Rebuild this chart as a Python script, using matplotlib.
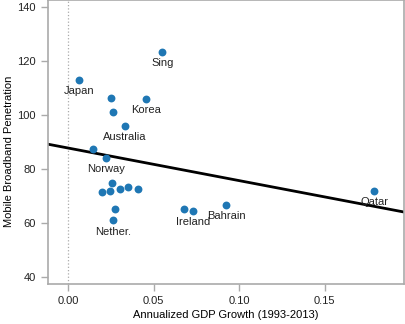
import numpy as np
import matplotlib.pyplot as plt

plt.rcParams['font.family'] = ['Liberation Sans', 'DejaVu Sans']

# annualized GDP growth vs mobile broadband penetration, one point per country
gdp_growth = [0.055, 0.0063, 0.0251, 0.026, 0.0454, 0.0333, 0.0144, 0.0219,
              0.0199, 0.0246, 0.0257, 0.030, 0.0351, 0.0409, 0.0273, 0.026,
              0.0677, 0.0731, 0.0924, 0.179]
penetration = [123.4, 113.1, 106.5, 101.3, 106.0, 96.1, 87.5, 84.1,
               71.7, 71.8, 74.7, 72.6, 73.4, 72.5, 65.1, 61.0,
               65.4, 64.4, 66.9, 71.9]
names = ['Sing', 'Japan', '', '', 'Korea', 'Australia', '', 'Norway',
         '', '', '', '', '', '', '', 'Nether.',
         '', 'Ireland', 'Bahrain', 'Qatar']

# fitted trend line
trend_intercept = 87.8
trend_slope = -120.6

x_ticks = [0.00, 0.05, 0.10, 0.15]
y_ticks = [40, 60, 80, 100, 120, 140]

GREY = '#aaaaaa'
BLUE = '#1f77b4'

fig = plt.figure(figsize=(4.05, 3.24), dpi=100)
ax = fig.add_axes([0.119, 0.1235, 0.8785, 0.875])

xlim = (-0.0117, 0.1963)
ax.set_xlim(*xlim)
ax.set_ylim(37.5, 142.4)

ax.axvline(0, color=GREY, lw=0.9, ls=':', zorder=1)

xs = np.array(xlim)
ax.plot(xs, trend_intercept + trend_slope * xs, color='black', lw=2, zorder=2)

ax.scatter(gdp_growth, penetration, s=32, color=BLUE, linewidths=0, zorder=3)

for x, y, name in zip(gdp_growth, penetration, names):
    if name:
        ax.annotate(name, (x, y), xytext=(0, -8), textcoords='offset points',
                    ha='center', va='center', fontsize=8, color='#222222',
                    zorder=4)

for side in ['left', 'right', 'top', 'bottom']:
    ax.spines[side].set_color(GREY)
    ax.spines[side].set_linewidth(1.2)

ax.set_xticks(x_ticks)
ax.set_xticklabels([f'{t:.2f}' for t in x_ticks])
ax.set_yticks(y_ticks)
ax.tick_params(direction='out', length=5, width=1, color=GREY,
               labelsize=8, labelcolor='#222222', pad=4)

ax.set_xlabel('Annualized GDP Growth (1993-2013)', fontsize=8)
ax.set_ylabel('Mobile Broadband Penetration', fontsize=8)
ax.xaxis.set_label_coords(0.5, -0.092)
ax.yaxis.set_label_coords(-0.097, 0.467)

fig.savefig('out.png', dpi=100)
